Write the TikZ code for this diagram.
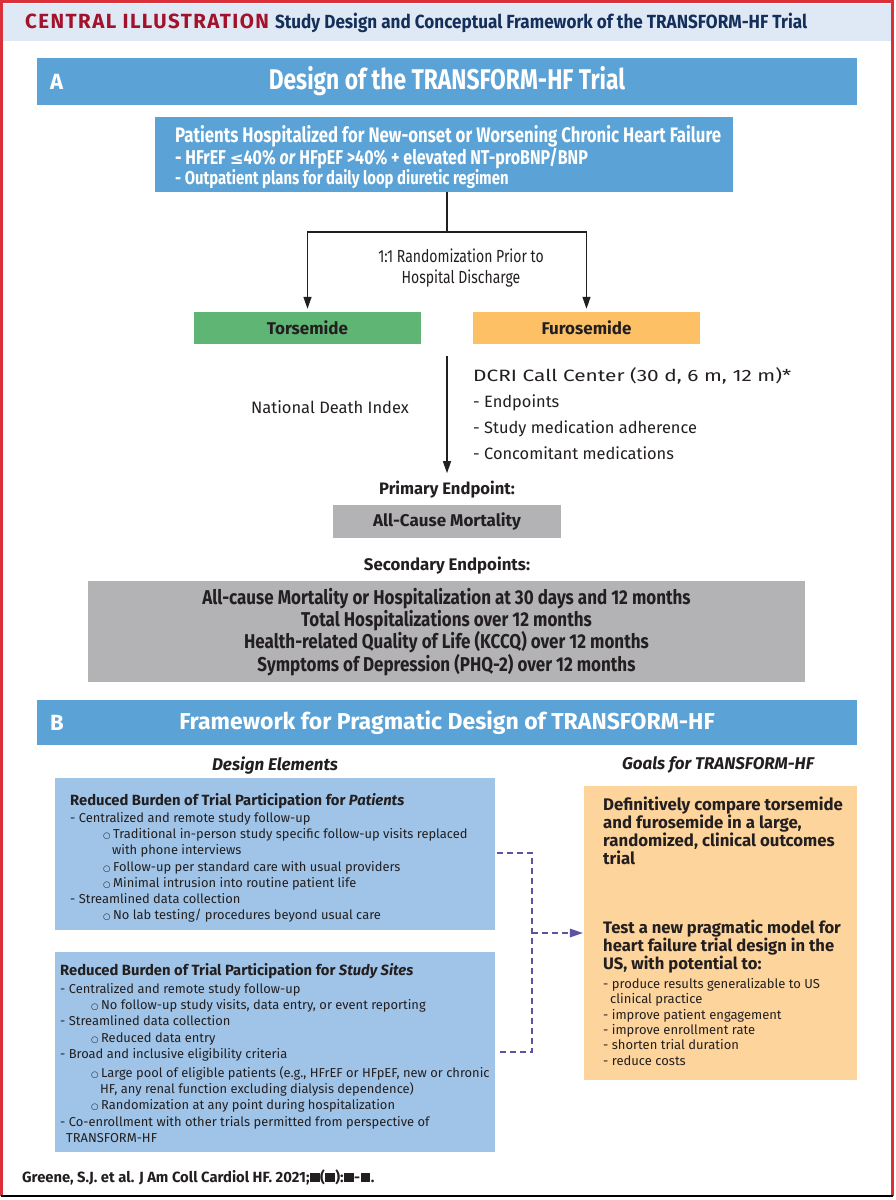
\documentclass[tikz,border=0pt]{standalone}
\usepackage{fontspec}
\usepackage{graphicx}
\setmainfont{Fira Sans}
\newfontfamily\cond[FakeStretch=0.8]{Fira Sans}
\newfontfamily\condb[FakeStretch=0.85]{Fira Sans}
\newfontfamily\hdrc[FakeStretch=0.9]{Fira Sans}
\newfontfamily\spaced[LetterSpace=7]{Fira Sans}
\newfontfamily\djv{DejaVu Sans}
\usetikzlibrary{arrows.meta,calc}
\definecolor{hdr}{HTML}{DFE9F5}
\definecolor{cred}{HTML}{A3122A}
\definecolor{bordred}{HTML}{D9303A}
\definecolor{navy}{HTML}{14305A}
\definecolor{barblue}{HTML}{5BA3D6}
\definecolor{tgreen}{HTML}{5FB573}
\definecolor{forange}{HTML}{FDC065}
\definecolor{egray}{HTML}{B3B3B5}
\definecolor{lblue}{HTML}{9FC4E8}
\definecolor{lorange}{HTML}{FDD49B}
\definecolor{dpurple}{HTML}{5E53A3}
\definecolor{ink}{HTML}{231F20}
\newcommand\sqb{\hspace{0.5pt}\rule{9.5pt}{9.5pt}\hspace{0.5pt}}
\newcommand\bul{{\djv\fontsize{8.5}{10}\selectfont ○}\hspace{2.5pt}}
\tikzset{
  fillbox/.style={draw=none, inner sep=0pt, minimum width=#1},
  arr/.style={draw=ink, line width=1.3pt, -{Triangle[length=12pt,width=8pt]}},
  plain/.style={draw=ink, line width=1.3pt},
  dashc/.style={draw=dpurple, line width=1.8pt, dash pattern=on 6pt off 4pt},
  txt/.style={inner sep=0pt, text=ink},
}
\begin{document}
\begin{tikzpicture}[x=1pt,y=-1pt]
\useasboundingbox (0,0) rectangle (896,1200);
\fill[white] (0,0) rectangle (896,1200);
% header
\fill[hdr] (3,4) rectangle (891,41);
\node[inner sep=0pt, anchor=west] (hdrtxt) at (25,23)
  {{\color{cred}\spaced\fontsize{20.5}{22}\selectfont\bfseries CENTRAL ILLUSTRATION}\hspace{6pt}{\color{navy}\hdrc\fontsize{19}{20}\selectfont\bfseries Study Design and Conceptual Framework of the TRANSFORM-HF Trial}};
% outer border
\draw[bordred, line width=2.4pt] (1.5,1196) -- (1.5,1.5) -- (892.5,1.5) -- (892.5,1196);
\draw[black, line width=1.2pt] (1,1196) -- (893,1196);

% Section A
\node[fill=barblue, fillbox=820, minimum height=47] (secA) at (447,81.5) {};
\node[txt, text=white, anchor=west, font=\fontsize{22}{24}\selectfont\bfseries] (secAl) at (50,81.5) {A};
\node[txt, text=white, font=\cond\fontsize{28.5}{30}\selectfont\bfseries] (secAt) at (447,81.5) {Design of the TRANSFORM-HF Trial};

% patients box
\node[fill=barblue, fillbox=578, minimum height=75] (pat) at (444,154.5) {};
\node[txt, text=white, anchor=north west, align=left, font=\cond\fontsize{21}{20}\selectfont\bfseries] (pattxt) at (175,125)
  {Patients Hospitalized for New-onset or Worsening Chronic Heart Failure\\
   {\fontsize{20}{20}\selectfont - HFrEF {\djv\fontsize{16.5}{18}\selectfont\bfseries ≤}40\% \textit{or} HFpEF >40\% + elevated NT-proBNP/BNP}\\
   {\fontsize{18.6}{20}\selectfont - Outpatient plans for daily loop diuretic regimen}};

% randomization
\coordinate (split) at (447,232);
\node[fill=tgreen, fillbox=227, minimum height=32, font=\fontsize{17}{18}\selectfont\bfseries, text=ink] (tor) at (307.5,328) {Torsemide};
\node[fill=forange, fillbox=227, minimum height=32, font=\fontsize{17}{18}\selectfont\bfseries, text=ink] (fur) at (586.5,328) {Furosemide};
\draw[plain] (pat.south -| split) -- (split);
\draw[arr, shorten >=3pt] (split) -| (tor.north);
\draw[arr, shorten >=3pt] (split) -| (fur.north);
\node[txt, align=center, font=\cond\fontsize{17.5}{20.5}\selectfont] (rand) at (461,268) {1:1 Randomization Prior to\\Hospital Discharge};

% follow up
\coordinate (vtop) at (447,356);
\node[txt, font=\fontsize{16.5}{18}\selectfont] (ndi) at (330,407) {National Death Index};
\node[txt, anchor=north west, align=left, font=\fontsize{16.4}{26}\selectfont] (dcri) at (473,367)
  {\resizebox{318pt}{\height}{DCRI Call Center (30 d, 6 m, 12 m)*}\\- Endpoints\\- Study medication adherence\\- Concomitant medications};
\node[txt, font=\fontsize{16.6}{18}\selectfont\bfseries] (primlbl) at (447,490) {Primary Endpoint:};
\draw[arr] (vtop) -- ([yshift=8pt]primlbl.north);
\node[fill=egray, fillbox=228, minimum height=33, font=\fontsize{17}{18}\selectfont\bfseries, text=ink] (prim) at (447,521.5) {All-Cause Mortality};
\node[txt, font=\fontsize{16.8}{18}\selectfont\bfseries] (seclbl) at (447,566) {Secondary Endpoints:};
\node[fill=egray, fillbox=717, minimum height=101] (sec) at (446.5,631.5) {};
\node[txt, align=center, font=\condb\fontsize{20}{20}\selectfont\bfseries] (sectxt) at (446.5,632)
  {All-cause Mortality or Hospitalization at 30 days and 12 months\\
   Total Hospitalizations over 12 months\\
   Health-related Quality of Life (KCCQ) over 12 months\\
   Symptoms of Depression (PHQ-2) over 12 months};

% Section B
\node[fill=barblue, fillbox=820, minimum height=45] (secB) at (447,722.5) {};
\node[txt, text=white, anchor=west, font=\fontsize{22}{24}\selectfont\bfseries] (secBl) at (50,722.5) {B};
\node[txt, text=white, font=\fontsize{23}{26}\selectfont\bfseries] (secBt) at (447,722.5) {Framework for Pragmatic Design of TRANSFORM-HF};

\node[txt, font=\fontsize{17}{18}\selectfont\bfseries\itshape] (delbl) at (275,765) {Design Elements};
\node[txt, font=\fontsize{17}{18}\selectfont\bfseries\itshape] (golbl) at (718,765) {Goals for TRANSFORM-HF};

\node[fill=lblue, fillbox=440, minimum height=152] (b1) at (275,854) {};
\node[txt, anchor=north west, align=left, font=\fontsize{12.9}{16.2}\selectfont] (b1txt) at (70,793)
  {{\fontsize{14.8}{16}\selectfont\bfseries Reduced Burden of Trial Participation for \textit{Patients}}\\[1pt]
   - Centralized and remote study follow-up\\
   \hspace*{33pt}\bul Traditional in-person study specific follow-up visits replaced\\
   \hspace*{42pt}with phone interviews\\
   \hspace*{33pt}\bul Follow-up per standard care with usual providers\\
   \hspace*{33pt}\bul Minimal intrusion into routine patient life\\
   - Streamlined data collection\\
   \hspace*{33pt}\bul No lab testing/ procedures beyond usual care};

\node[fill=lblue, fillbox=440, minimum height=200] (b2) at (275,1052) {};
\node[txt, anchor=north west, align=left, font=\fontsize{12.9}{16.4}\selectfont] (b2txt) at (60,963)
  {{\fontsize{14.8}{16}\selectfont\bfseries Reduced Burden of Trial Participation for \textit{Study Sites}}\\[1.5pt]
   - Centralized and remote study follow-up\\
   \hspace*{31pt}\bul No follow-up study visits, data entry, or event reporting\\
   - Streamlined data collection\\
   \hspace*{31pt}\bul Reduced data entry\\
   - Broad and inclusive eligibility criteria\\[2pt]
   \hspace*{31pt}\bul Large pool of eligible patients (e.g., HFrEF or HFpEF, new or chronic\\
   \hspace*{40pt}HF, any renal function excluding dialysis dependence)\\
   \hspace*{31pt}\bul Randomization at any point during hospitalization\\
   - Co-enrollment with other trials permitted from perspective of\\
   \hspace*{6pt}TRANSFORM-HF};

\node[fill=lorange, fillbox=273, minimum height=294] (goals) at (720.5,933) {};
\node[txt, anchor=north west, align=left, font=\fontsize{16.8}{18}\selectfont\bfseries] (g1) at (603,797)
  {Definitively compare torsemide\\and furosemide in a large,\\randomized, clinical outcomes\\trial};
\node[txt, anchor=north west, align=left, font=\fontsize{16.6}{18}\selectfont\bfseries] (g2) at (603,920)
  {Test a new pragmatic model for\\heart failure trial design in the\\US, with potential to:};
\node[txt, anchor=north west, align=left, font=\fontsize{13}{15.4}\selectfont] (g3) at (603,978)
  {- produce results generalizable to US\\
   \hspace*{7pt}clinical practice\\
   - improve patient engagement\\
   - improve enrollment rate\\
   - shorten trial duration\\
   - reduce costs};

% dashed connector
\coordinate (jn) at (532,933);
\draw[dashc] (497,853) -- (532,853) -- (532,1052) -- (497,1052);
\draw[dashc] (jn) -- ([xshift=-10pt]goals.west |- jn);
\draw[draw=none, fill=dpurple] ([xshift=-1pt]goals.west |- jn) -- ++(-13,-4.5) -- ++(0,9) -- cycle;

% footer
\node[txt, anchor=west, font=\fontsize{14.8}{16}\selectfont\bfseries] (foot) at (22,1177)
  {Greene, S.J. et al. J Am Coll Cardiol HF. 2021;\sqb(\sqb):\sqb-\sqb.};
\end{tikzpicture}
\end{document}
